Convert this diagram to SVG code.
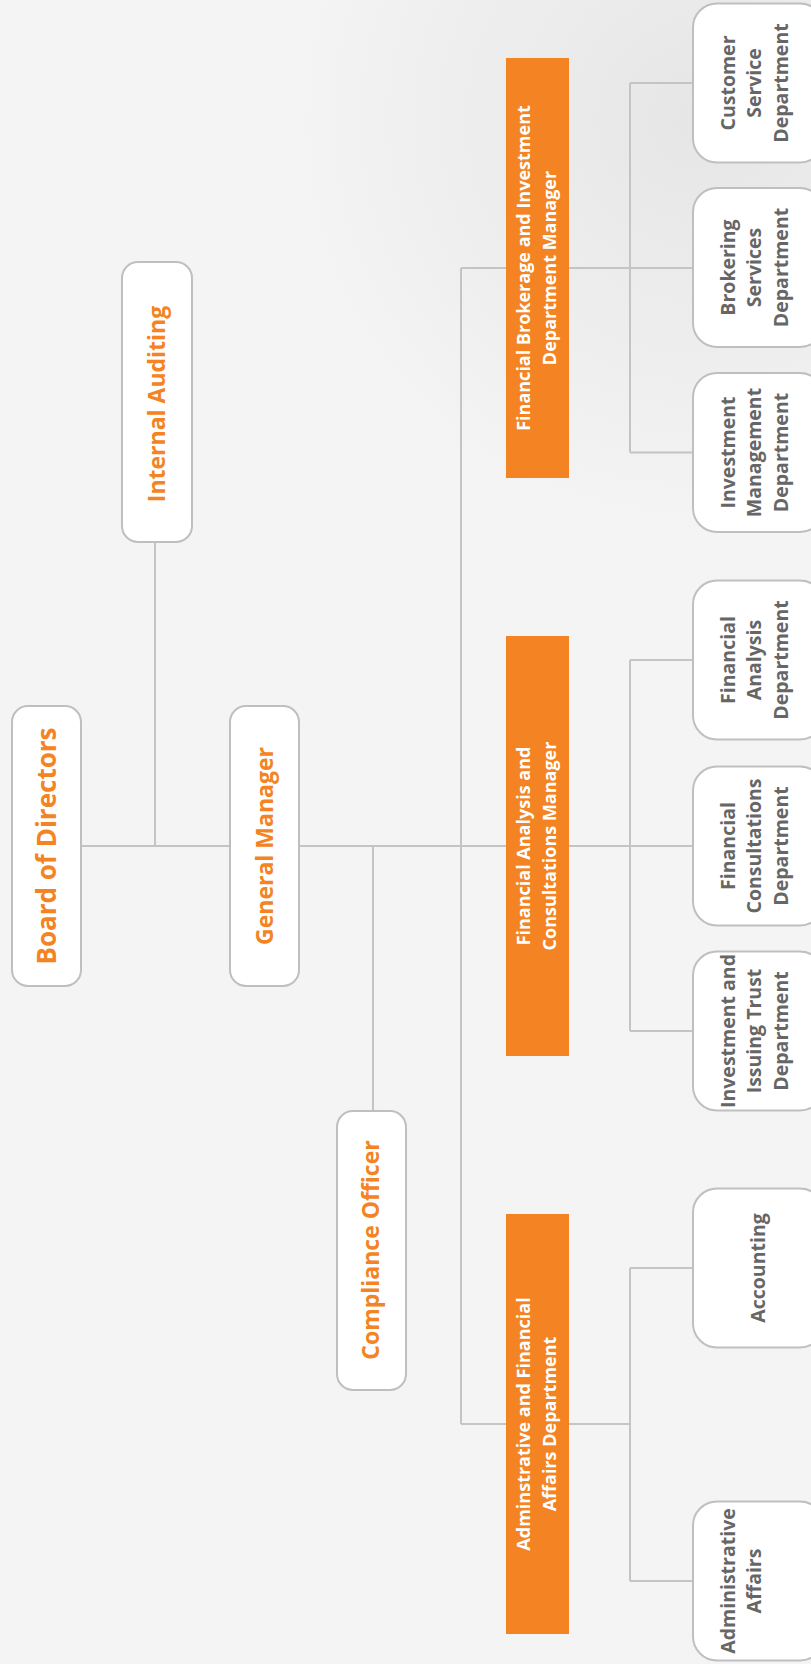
<svg xmlns="http://www.w3.org/2000/svg" width="811" height="1664" viewBox="0 0 811 1664">
<defs>
<radialGradient id="bgdeco" cx="700" cy="120" r="420" gradientUnits="userSpaceOnUse">
<stop offset="0" stop-color="#e6e6e6"/>
<stop offset="1" stop-color="#f4f4f4"/>
</radialGradient>
<style>
.conn{stroke:#c4c4c4;stroke-width:2;fill:none}
.wbox{fill:#ffffff;stroke:#bfbfbf;stroke-width:2}
.obox{fill:#f48423}
.otx{font-family:"Open Sans","Noto Sans",sans-serif;font-weight:700;fill:#f48423;text-anchor:middle}
.wtx{font-family:"Open Sans","Noto Sans",sans-serif;font-weight:700;fill:#ffffff;text-anchor:middle;font-size:18px}
.gtx{font-family:"Open Sans","Noto Sans",sans-serif;font-weight:700;fill:#666666;text-anchor:middle;font-size:19.5px}
</style>
</defs>
<rect x="0" y="0" width="811" height="1664" fill="#f4f4f4"/>
<rect x="0" y="0" width="811" height="600" fill="url(#bgdeco)"/>
<g id="connectors">
<path class="conn" d="M81 846H693"/>
<path class="conn" d="M155 542V846"/>
<path class="conn" d="M373 846V1111"/>
<path class="conn" d="M461 268V1424"/>
<path class="conn" d="M461 268H693"/>
<path class="conn" d="M461 1424H630"/>
<path class="conn" d="M630 83V452.5M630 83H693M630 452.5H693"/>
<path class="conn" d="M630 660V1031M630 660H693M630 1031H693"/>
<path class="conn" d="M630 1268V1581M630 1268H693M630 1581H693"/>
</g>
<g id="board">
<rect class="wbox" x="12" y="706" width="69" height="280" rx="16"/>
<text class="otx" font-size="26" transform="translate(46.5 846) rotate(-90)" x="0" y="9.5">Board of Directors</text>
</g>
<g id="internal-auditing">
<rect class="wbox" x="122" y="262" width="70" height="280" rx="16"/>
<text class="otx" font-size="23" transform="translate(157 404) rotate(-90)" x="0" y="8">Internal Auditing</text>
</g>
<g id="general-manager">
<rect class="wbox" x="230" y="706" width="69" height="280" rx="16"/>
<text class="otx" font-size="23" transform="translate(264.5 846) rotate(-90)" x="0" y="8">General Manager</text>
</g>
<g id="compliance-officer">
<rect class="wbox" x="337" y="1111" width="69" height="279" rx="16"/>
<text class="otx" font-size="23" transform="translate(371.5 1250) rotate(-90)" x="0" y="7">Compliance Officer</text>
</g>
<g id="brokerage-manager">
<rect class="obox" x="506" y="58" width="63" height="420"/>
<text class="wtx" transform="translate(537.5 268) rotate(-90)"><tspan x="0" y="-7.5">Financial Brokerage and Investment</tspan><tspan x="0" y="18.5">Department Manager</tspan></text>
</g>
<g id="analysis-manager">
<rect class="obox" x="506" y="636" width="63" height="420"/>
<text class="wtx" transform="translate(537.5 846) rotate(-90)"><tspan x="0" y="-7.5">Financial Analysis and</tspan><tspan x="0" y="18.5">Consultations Manager</tspan></text>
</g>
<g id="admin-financial">
<rect class="obox" x="506" y="1214" width="63" height="420"/>
<text class="wtx" transform="translate(537.5 1424) rotate(-90)"><tspan x="0" y="-7.5">Adminstrative and Financial</tspan><tspan x="0" y="18.5">Affairs Department</tspan></text>
</g>
<g id="customer-service">
<rect class="wbox" x="693" y="3.5" width="131" height="159" rx="24"/>
<text class="gtx" transform="translate(758.5 83) rotate(-90)"><tspan x="0" y="-23.7">Customer</tspan><tspan x="0" y="2.8">Service</tspan><tspan x="0" y="29.3">Department</tspan></text>
</g>
<g id="brokering-services">
<rect class="wbox" x="693" y="188" width="131" height="159" rx="24"/>
<text class="gtx" transform="translate(758.5 267.5) rotate(-90)"><tspan x="0" y="-23.7">Brokering</tspan><tspan x="0" y="2.8">Services</tspan><tspan x="0" y="29.3">Department</tspan></text>
</g>
<g id="investment-management">
<rect class="wbox" x="693" y="373" width="131" height="159" rx="24"/>
<text class="gtx" transform="translate(758.5 452.5) rotate(-90)"><tspan x="0" y="-23.7">Investment</tspan><tspan x="0" y="2.8">Management</tspan><tspan x="0" y="29.3">Department</tspan></text>
</g>
<g id="financial-analysis">
<rect class="wbox" x="693" y="580.5" width="131" height="159" rx="24"/>
<text class="gtx" transform="translate(758.5 660) rotate(-90)"><tspan x="0" y="-23.7">Financial</tspan><tspan x="0" y="2.8">Analysis</tspan><tspan x="0" y="29.3">Department</tspan></text>
</g>
<g id="financial-consultations">
<rect class="wbox" x="693" y="766.5" width="131" height="159" rx="24"/>
<text class="gtx" transform="translate(758.5 846) rotate(-90)"><tspan x="0" y="-23.7">Financial</tspan><tspan x="0" y="2.8">Consultations</tspan><tspan x="0" y="29.3">Department</tspan></text>
</g>
<g id="investment-issuing-trust">
<rect class="wbox" x="693" y="951.5" width="131" height="159" rx="24"/>
<text class="gtx" transform="translate(758.5 1031) rotate(-90)"><tspan x="0" y="-23.7">Investment and</tspan><tspan x="0" y="2.8">Issuing Trust</tspan><tspan x="0" y="29.3">Department</tspan></text>
</g>
<g id="accounting">
<rect class="wbox" x="693" y="1188.5" width="131" height="159" rx="24"/>
<text class="gtx" transform="translate(758.5 1268) rotate(-90)" x="0" y="6.8">Accounting</text>
</g>
<g id="administrative-affairs">
<rect class="wbox" x="693" y="1501.5" width="131" height="159" rx="24"/>
<text class="gtx" transform="translate(758.5 1581) rotate(-90)"><tspan x="0" y="-23.7">Administrative</tspan><tspan x="0" y="2.8">Affairs</tspan></text>
</g>
</svg>
